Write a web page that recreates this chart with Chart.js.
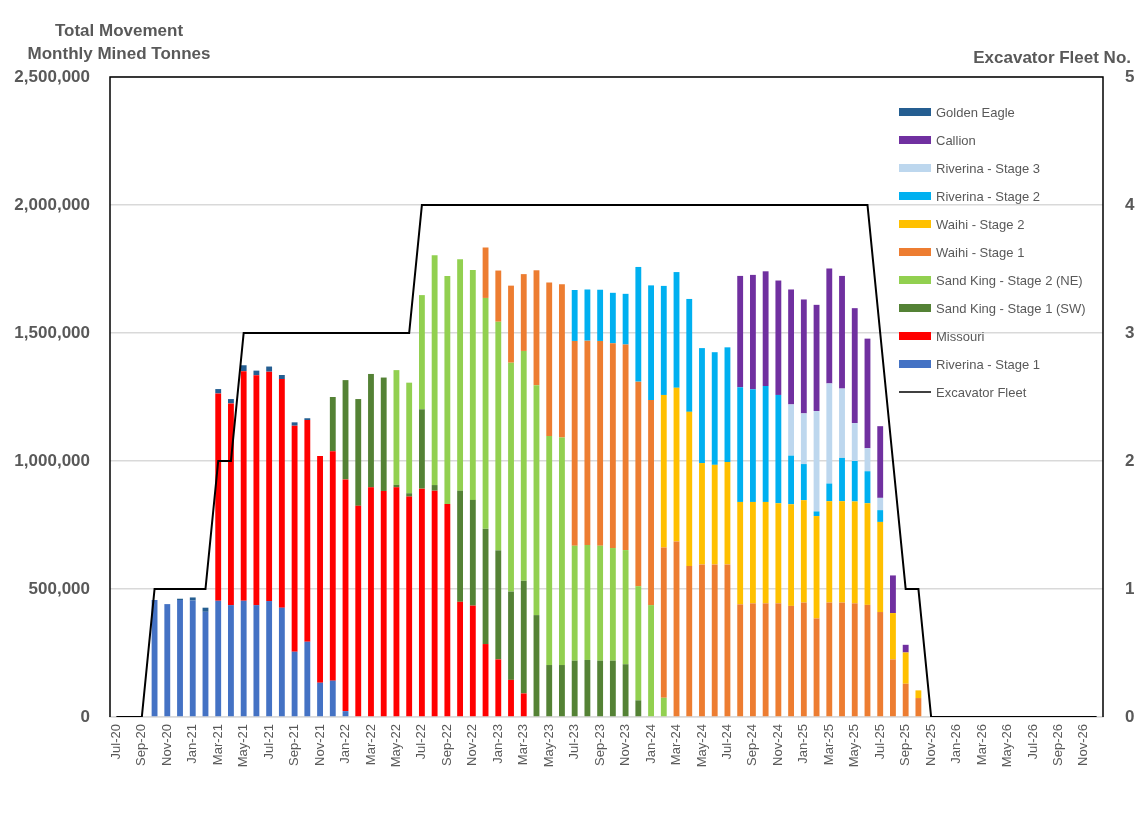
<!DOCTYPE html>
<html>
<head>
<meta charset="utf-8">
<title>Total Movement - Monthly Mined Tonnes</title>
<script src="https://cdn.jsdelivr.net/npm/chart.js@4/dist/chart.umd.min.js"></script>
<style>
    body { margin: 0; background: #ffffff; }
    canvas { display: block; }
</style>
</head>
<body>
<canvas id="chart-movimiento" width="1136" height="827"></canvas>
<script>
// Meses (eje X)
const meses = [
    'Jul-20','Aug-20','Sep-20','Oct-20','Nov-20','Dec-20',
    'Jan-21','Feb-21','Mar-21','Apr-21','May-21','Jun-21','Jul-21','Aug-21','Sep-21','Oct-21','Nov-21','Dec-21',
    'Jan-22','Feb-22','Mar-22','Apr-22','May-22','Jun-22','Jul-22','Aug-22','Sep-22','Oct-22','Nov-22','Dec-22',
    'Jan-23','Feb-23','Mar-23','Apr-23','May-23','Jun-23','Jul-23','Aug-23','Sep-23','Oct-23','Nov-23','Dec-23',
    'Jan-24','Feb-24','Mar-24','Apr-24','May-24','Jun-24','Jul-24','Aug-24','Sep-24','Oct-24','Nov-24','Dec-24',
    'Jan-25','Feb-25','Mar-25','Apr-25','May-25','Jun-25','Jul-25','Aug-25','Sep-25','Oct-25','Nov-25','Dec-25',
    'Jan-26','Feb-26','Mar-26','Apr-26','May-26','Jun-26','Jul-26','Aug-26','Sep-26','Oct-26','Nov-26','Dec-26'
];

// Toneladas por mes (miles de t), cada serie empieza en el indice indicado
const riverina1Inicio = 3;
const riverina1 = [457,441,457,455,411,454,437,454,437,453,427,255,294,134,142,23];
const missouriInicio = 8;
const missouri = [810,788,897,898,896,893,883,866,886,896,905,825,897,883,897,861,892,884,832,450,435,285,225,145,92];
const sandKing1Inicio = 17;
const sandKing1 = [212,388,417,443,443,10,13,310,22,0,434,413,450,426,345,440,398,203,203,220,223,220,220,206,65];
const sandKing2Inicio = 22;
const sandKing2 = [448,432,446,898,891,904,898,902,893,894,898,898,895,889,449,449,449,440,446,446,437,75];
const waihi1Inicio = 29;
const waihi1 = [197,200,301,300,449,599,598,800,798,800,800,803,799,801,587,686,590,596,596,596,440,444,444,444,434,447,385,447,447,444,438,410,225,130,74];
const waihi2Inicio = 43;
const waihi2 = [596,600,602,396,389,400,400,396,396,391,397,400,400,396,396,398,397,352,181,122,30];
const riverina2Inicio = 36;
const riverina2 = [199,200,200,197,198,448,448,426,452,441,449,440,448,448,440,453,423,190,141,18,69,169,158,125,46];
const riverina3Inicio = 53;
const riverina3 = [200,198,392,391,271,148,90,48];
const callionInicio = 49;
const callion = [435,447,448,447,449,445,415,449,440,449,428,280,147,30];
const goldenEagleInicio = 5;
const goldenEagle = [5,12,16,17,17,23,18,20,16,13,7];

// Flota de excavadoras (eje derecho)
const flota = [
    0,0,0,1,1,1,1,1,2,2,
    3,3,3,3,3,3,3,3,3,3,3,3,3,3,
    4,4,4,4,4,4,4,4,4,4,4,4,4,4,4,4,4,4,4,4,4,4,4,4,4,4,4,4,4,4,4,4,4,4,4,4,
    3,2,1,1,
    0,0,0,0,0,0,0,0,0,0,0,0,0,0
];

// Ticks
const ticksTonnes = [0, 500000, 1000000, 1500000, 2000000, 2500000];
const ticksFlota = [0, 1, 2, 3, 4, 5];

// Expande una serie al largo de los meses (miles -> toneladas)
function serie(inicio, valores) {
    const out = meses.map(() => null);
    valores.forEach((v, i) => {
        out[inicio + i] = v * 1000;
    });
    return out;
}

const FUENTE = "'Liberation Sans', Arial, sans-serif";
const GRIS = '#595959';

// Barras de abajo hacia arriba
const barras = [
    { label: 'Riverina - Stage 1', data: serie(riverina1Inicio, riverina1), color: '#4472C4' },
    { label: 'Missouri', data: serie(missouriInicio, missouri), color: '#FF0000' },
    { label: 'Sand King - Stage 1 (SW)', data: serie(sandKing1Inicio, sandKing1), color: '#548235' },
    { label: 'Sand King - Stage 2 (NE)', data: serie(sandKing2Inicio, sandKing2), color: '#92D050' },
    { label: 'Waihi - Stage 1', data: serie(waihi1Inicio, waihi1), color: '#ED7D31' },
    { label: 'Waihi - Stage 2', data: serie(waihi2Inicio, waihi2), color: '#FFC000' },
    { label: 'Riverina - Stage 2', data: serie(riverina2Inicio, riverina2), color: '#00B0F0' },
    { label: 'Riverina - Stage 3', data: serie(riverina3Inicio, riverina3), color: '#BDD7EE' },
    { label: 'Callion', data: serie(callionInicio, callion), color: '#7030A0' },
    { label: 'Golden Eagle', data: serie(goldenEagleInicio, goldenEagle), color: '#255E91' }
];

const datasets = barras.map(b => ({
    type: 'bar',
    label: b.label,
    data: b.data,
    backgroundColor: b.color,
    borderWidth: 0,
    barPercentage: 0.46,
    categoryPercentage: 1.0,
    stack: 'minas',
    yAxisID: 'y',
    order: 1
}));

datasets.push({
    type: 'line',
    label: 'Excavator Fleet',
    data: flota,
    borderColor: '#000000',
    borderWidth: 2,
    pointRadius: 0,
    tension: 0,
    fill: false,
    yAxisID: 'y1',
    order: 0
});

// Marco, titulos y leyenda
const extras = {
    id: 'extras',
    beforeDatasetsDraw(chart) {
        const { ctx, chartArea } = chart;
        ctx.save();
        ctx.strokeStyle = '#000000';
        ctx.lineWidth = 1.5;
        ctx.beginPath();
        ctx.moveTo(chartArea.left, chartArea.bottom);
        ctx.lineTo(chartArea.left, chartArea.top);
        ctx.lineTo(chartArea.right, chartArea.top);
        ctx.lineTo(chartArea.right, chartArea.bottom);
        ctx.stroke();
        ctx.restore();
    },
    afterDraw(chart) {
        const { ctx, chartArea } = chart;
        ctx.save();

        // Titulos de ejes
        ctx.fillStyle = GRIS;
        ctx.font = 'bold 17px ' + FUENTE;
        ctx.textBaseline = 'middle';
        ctx.textAlign = 'center';
        ctx.fillText('Total Movement', 119, 31);
        ctx.fillText('Monthly Mined Tonnes', 119, 54);
        ctx.textAlign = 'right';
        ctx.fillText('Excavator Fleet No.', 1131, 58);

        // Leyenda (orden inverso al apilado)
        const items = barras.slice().reverse();
        const x0 = chartArea.right - 204;
        let y = chartArea.top + 35;
        ctx.font = '13px ' + FUENTE;
        ctx.textAlign = 'left';
        items.forEach(item => {
            ctx.fillStyle = item.color;
            ctx.fillRect(x0, y - 4, 32, 8);
            ctx.fillStyle = GRIS;
            ctx.fillText(item.label, x0 + 37, y + 1);
            y += 28;
        });
        ctx.strokeStyle = '#000000';
        ctx.lineWidth = 1.5;
        ctx.beginPath();
        ctx.moveTo(x0, y);
        ctx.lineTo(x0 + 32, y);
        ctx.stroke();
        ctx.fillStyle = GRIS;
        ctx.fillText('Excavator Fleet', x0 + 37, y + 1);

        ctx.restore();
    }
};

const ctx = document.getElementById('chart-movimiento');
new Chart(ctx, {
    data: {
        labels: meses,
        datasets: datasets
    },
    options: {
        responsive: false,
        animation: false,
        layout: {
            padding: { top: 77, left: 0, right: 0, bottom: 0 }
        },
        plugins: {
            legend: { display: false },
            tooltip: { enabled: false }
        },
        scales: {
            x: {
                stacked: true,
                offset: true,
                grid: { display: false, drawTicks: false },
                border: { display: true, color: '#D9D9D9', width: 1.5 },
                ticks: {
                    autoSkip: false,
                    maxRotation: 90,
                    minRotation: 90,
                    padding: 7,
                    color: GRIS,
                    font: { family: FUENTE, size: 13 },
                    callback: function(value, index) {
                        return index % 2 === 0 ? meses[index] : '';
                    }
                },
                afterFit: function(scale) {
                    scale.height = 110;
                }
            },
            y: {
                stacked: true,
                min: 0,
                max: 2500000,
                afterBuildTicks: function(scale) {
                    scale.ticks = ticksTonnes.map(v => ({ value: v }));
                },
                grid: { color: '#D9D9D9', lineWidth: 1.5, drawTicks: false },
                border: { display: false },
                ticks: {
                    padding: 20,
                    color: GRIS,
                    font: { family: FUENTE, size: 17, weight: 'bold' },
                    callback: function(value) {
                        return value.toLocaleString('en-US');
                    }
                },
                afterFit: function(scale) {
                    scale.width = 110;
                }
            },
            y1: {
                position: 'right',
                min: 0,
                max: 5,
                afterBuildTicks: function(scale) {
                    scale.ticks = ticksFlota.map(v => ({ value: v }));
                },
                grid: { display: false, drawTicks: false },
                border: { display: false },
                ticks: {
                    padding: 22,
                    color: GRIS,
                    font: { family: FUENTE, size: 17, weight: 'bold' }
                },
                afterFit: function(scale) {
                    scale.width = 33;
                }
            }
        }
    },
    plugins: [extras]
});
</script>
</body>
</html>
